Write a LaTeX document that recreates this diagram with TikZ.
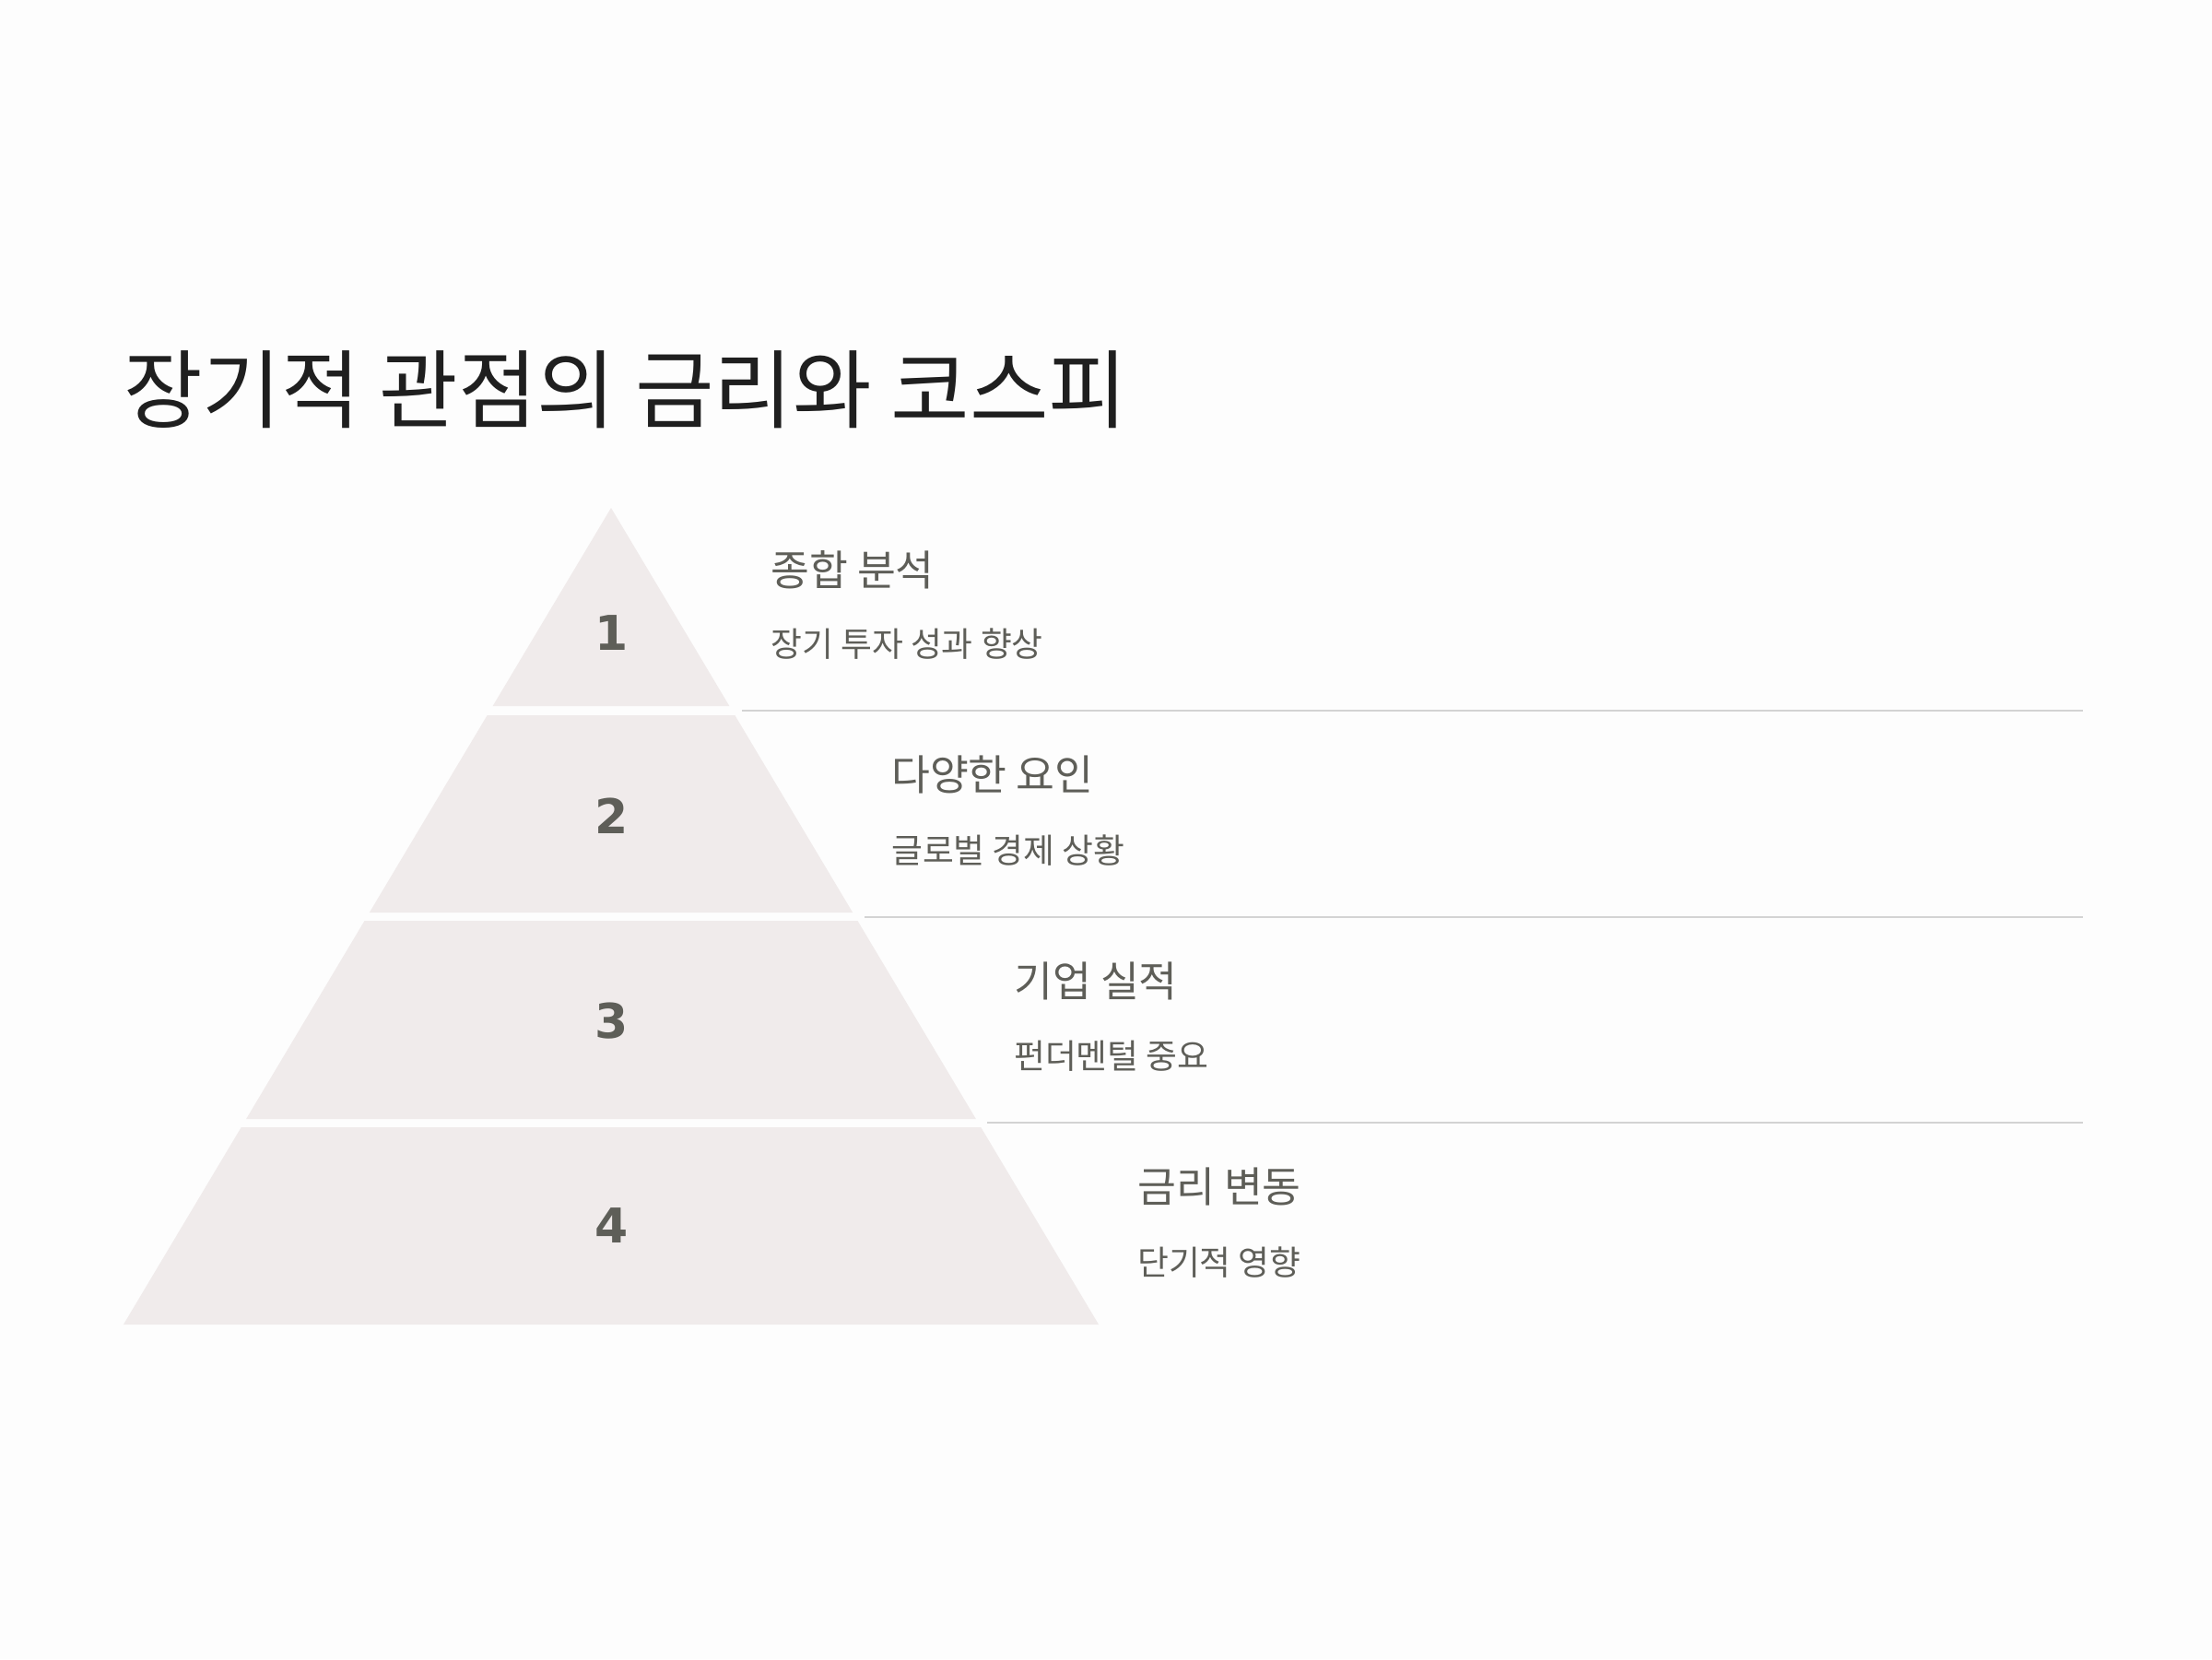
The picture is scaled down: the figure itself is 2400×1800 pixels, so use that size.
\documentclass[tikz,border=0pt]{standalone}
\usepackage{fontspec}
\newfontfamily\kr{Noto Sans CJK KR}
\newfontfamily\numfont{DejaVu Sans}
\definecolor{bgc}{HTML}{FDFDFD}
\definecolor{pyr}{HTML}{F0EBEB}
\definecolor{txtg}{HTML}{5E5E58}
\definecolor{ttl}{HTML}{1F1F1F}
\definecolor{sep}{HTML}{D3D3D3}
\tikzset{
  titletext/.style={anchor=west, inner sep=0pt, text=ttl, font=\kr\fontsize{93}{104}\selectfont},
  headtext/.style={anchor=west, inner sep=0pt, text=txtg, font=\kr\fontsize{45.5}{54}\selectfont},
  subtext/.style={anchor=west, inner sep=0pt, text=txtg, font=\kr\fontsize{36.8}{44}\selectfont},
  numtext/.style={anchor=center, inner sep=0pt, text=txtg, font=\numfont\bfseries\fontsize{52}{60}\selectfont},
  sepline/.style={draw=sep, line width=2pt},
}
\begin{document}
\begin{tikzpicture}[x=1pt,y=-1pt]
\fill[bgc] (0,0) rectangle (2400,1800);
\useasboundingbox (0,0) rectangle (2400,1800);
% pyramid slices
\foreach \ya/\yb in {551/766, 776/990, 999/1214, 1223/1437}{
  \pgfmathsetmacro{\wa}{(\ya-551)*0.5971}
  \pgfmathsetmacro{\wb}{(\yb-551)*0.5971}
  \fill[pyr] ({663-\wa},\ya) -- ({663+\wa},\ya) -- ({663+\wb},\yb) -- ({663-\wb},\yb) -- cycle;
}
% title
\node[titletext] (title) at (134,423) {장기적 관점의 금리와 코스피};
% numbers
\node[numtext] (n1) at (664,687) {1};
\node[numtext] (n2) at (664,885) {2};
\node[numtext] (n3) at (664,1108) {3};
\node[numtext] (n4) at (664,1330) {4};
% headings and subtitles
\node[headtext] (h1) at (836,618) {종합 분석};
\node[subtext] (s1) at (836,699) {장기 투자 성과 향상};
\node[headtext] (h2) at (967,840) {다양한 요인};
\node[subtext] (s2) at (967,923) {글로벌 경제 상황};
\node[headtext] (h3) at (1100,1064) {기업 실적};
\node[subtext] (s3) at (1100,1146) {펀더멘털 중요};
\node[headtext] (h4) at (1234,1287) {금리 변동};
\node[subtext] (s4) at (1234,1370) {단기적 영향};
% separators
\coordinate (l1a) at (805,771); \coordinate (l1b) at (2260,771);
\coordinate (l2a) at (938,995); \coordinate (l2b) at (2260,995);
\coordinate (l3a) at (1071,1218); \coordinate (l3b) at (2260,1218);
\draw[sepline] (l1a) -- (l1b);
\draw[sepline] (l2a) -- (l2b);
\draw[sepline] (l3a) -- (l3b);
\end{tikzpicture}
\end{document}
